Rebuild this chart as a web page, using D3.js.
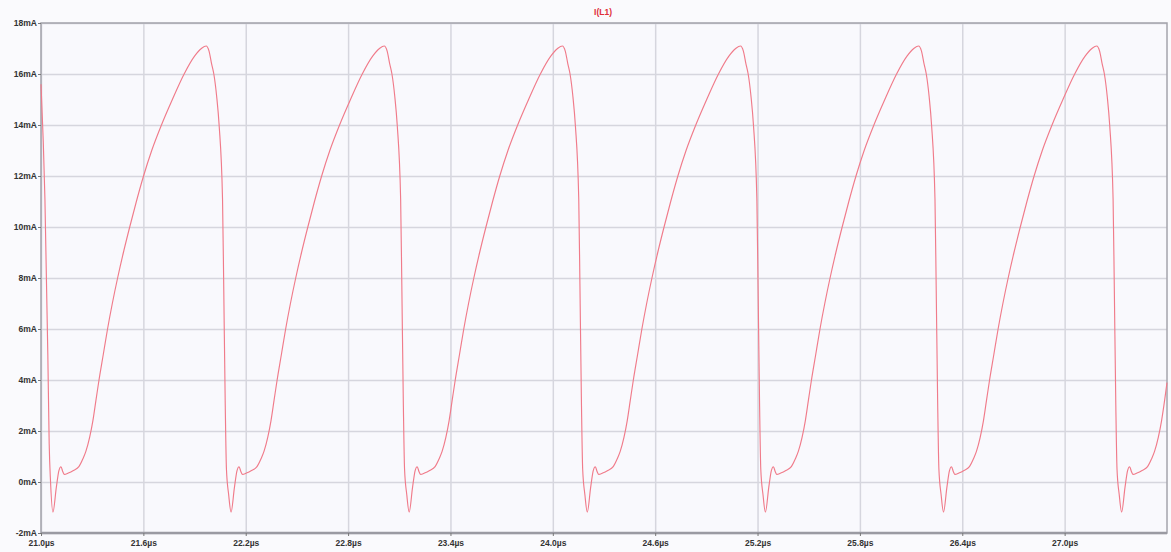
<!DOCTYPE html>
<html>
<head>
<meta charset="utf-8">
<script src="https://cdn.jsdelivr.net/npm/d3@7"></script>
<style>
  html, body { margin: 0; padding: 0; background: #fafafd; }
  svg { display: block; }
  .tick text { font-family: "Liberation Sans", Arial, sans-serif; font-weight: bold; font-size: 8.5px; fill: #333; }
</style>
</head>
<body>
<svg id="chart" width="1171" height="552"></svg>
<script>
// Inductor current I(L1) over time (µs, mA)
const timeUs = [
  21.000, 21.023, 21.040, 21.048, 21.056,
  21.070, 21.090, 21.105, 21.117, 21.128, 21.137, 21.160, 21.190, 21.222, 21.245, 21.263, 21.285, 21.304, 21.322, 21.340, 21.365, 21.390, 21.418, 21.449, 21.483, 21.520, 21.559, 21.601, 21.649, 21.706, 21.770, 21.839, 21.900, 21.940, 21.968, 21.985, 22.000, 22.013, 22.030, 22.044, 22.064, 22.071, 22.080, 22.087, 22.100,
  22.114, 22.134, 22.149, 22.161, 22.172, 22.181, 22.204, 22.234, 22.266, 22.289, 22.307, 22.329, 22.348, 22.366, 22.384, 22.409, 22.434, 22.462, 22.493, 22.527, 22.564, 22.603, 22.645, 22.693, 22.750, 22.814, 22.883, 22.944, 22.984, 23.012, 23.029, 23.044, 23.057, 23.074, 23.088, 23.108, 23.115, 23.124, 23.131, 23.144,
  23.158, 23.178, 23.193, 23.205, 23.216, 23.225, 23.248, 23.278, 23.310, 23.333, 23.351, 23.373, 23.392, 23.410, 23.428, 23.453, 23.478, 23.506, 23.537, 23.571, 23.608, 23.647, 23.689, 23.737, 23.794, 23.858, 23.927, 23.988, 24.028, 24.056, 24.073, 24.088, 24.101, 24.118, 24.132, 24.152, 24.159, 24.168, 24.175, 24.188,
  24.202, 24.222, 24.237, 24.249, 24.260, 24.269, 24.292, 24.322, 24.354, 24.377, 24.395, 24.417, 24.436, 24.454, 24.472, 24.497, 24.522, 24.550, 24.581, 24.615, 24.652, 24.691, 24.733, 24.781, 24.838, 24.902, 24.971, 25.032, 25.072, 25.100, 25.117, 25.132, 25.145, 25.162, 25.176, 25.196, 25.203, 25.212, 25.219, 25.232,
  25.246, 25.266, 25.281, 25.293, 25.304, 25.313, 25.336, 25.366, 25.398, 25.421, 25.439, 25.461, 25.480, 25.498, 25.516, 25.541, 25.566, 25.594, 25.625, 25.659, 25.696, 25.735, 25.777, 25.825, 25.882, 25.946, 26.015, 26.076, 26.116, 26.144, 26.161, 26.176, 26.189, 26.206, 26.220, 26.240, 26.247, 26.256, 26.263, 26.276,
  26.290, 26.310, 26.325, 26.337, 26.348, 26.357, 26.380, 26.410, 26.442, 26.465, 26.483, 26.505, 26.524, 26.542, 26.560, 26.585, 26.610, 26.638, 26.669, 26.703, 26.740, 26.779, 26.821, 26.869, 26.926, 26.990, 27.059, 27.120, 27.160, 27.188, 27.205, 27.220, 27.233, 27.250, 27.264, 27.284, 27.291, 27.300, 27.307, 27.320,
  27.334, 27.354, 27.369, 27.381, 27.392, 27.401, 27.424, 27.454, 27.486, 27.509, 27.527, 27.549, 27.568, 27.586, 27.600
];

const currentMA = [
  15.60, 11.10, 5.00, 1.50, 0.00,
  -1.18, -0.20, 0.45, 0.60, 0.40, 0.30, 0.35, 0.45, 0.60, 0.90, 1.20, 1.75, 2.40, 3.20, 4.00, 5.00, 6.00, 7.00, 8.00, 9.00, 10.00, 11.00, 12.00, 13.00, 14.00, 15.00, 16.00, 16.70, 17.00, 17.10, 16.90, 16.40, 16.00, 15.10, 14.00, 11.10, 7.70, 3.00, 0.50, -0.50,
  -1.18, -0.20, 0.45, 0.60, 0.40, 0.30, 0.35, 0.45, 0.60, 0.90, 1.20, 1.75, 2.40, 3.20, 4.00, 5.00, 6.00, 7.00, 8.00, 9.00, 10.00, 11.00, 12.00, 13.00, 14.00, 15.00, 16.00, 16.70, 17.00, 17.10, 16.90, 16.40, 16.00, 15.10, 14.00, 11.10, 7.70, 3.00, 0.50, -0.50,
  -1.18, -0.20, 0.45, 0.60, 0.40, 0.30, 0.35, 0.45, 0.60, 0.90, 1.20, 1.75, 2.40, 3.20, 4.00, 5.00, 6.00, 7.00, 8.00, 9.00, 10.00, 11.00, 12.00, 13.00, 14.00, 15.00, 16.00, 16.70, 17.00, 17.10, 16.90, 16.40, 16.00, 15.10, 14.00, 11.10, 7.70, 3.00, 0.50, -0.50,
  -1.18, -0.20, 0.45, 0.60, 0.40, 0.30, 0.35, 0.45, 0.60, 0.90, 1.20, 1.75, 2.40, 3.20, 4.00, 5.00, 6.00, 7.00, 8.00, 9.00, 10.00, 11.00, 12.00, 13.00, 14.00, 15.00, 16.00, 16.70, 17.00, 17.10, 16.90, 16.40, 16.00, 15.10, 14.00, 11.10, 7.70, 3.00, 0.50, -0.50,
  -1.18, -0.20, 0.45, 0.60, 0.40, 0.30, 0.35, 0.45, 0.60, 0.90, 1.20, 1.75, 2.40, 3.20, 4.00, 5.00, 6.00, 7.00, 8.00, 9.00, 10.00, 11.00, 12.00, 13.00, 14.00, 15.00, 16.00, 16.70, 17.00, 17.10, 16.90, 16.40, 16.00, 15.10, 14.00, 11.10, 7.70, 3.00, 0.50, -0.50,
  -1.18, -0.20, 0.45, 0.60, 0.40, 0.30, 0.35, 0.45, 0.60, 0.90, 1.20, 1.75, 2.40, 3.20, 4.00, 5.00, 6.00, 7.00, 8.00, 9.00, 10.00, 11.00, 12.00, 13.00, 14.00, 15.00, 16.00, 16.70, 17.00, 17.10, 16.90, 16.40, 16.00, 15.10, 14.00, 11.10, 7.70, 3.00, 0.50, -0.50,
  -1.18, -0.20, 0.45, 0.60, 0.40, 0.30, 0.35, 0.45, 0.60, 0.90, 1.20, 1.75, 2.40, 3.20, 3.90
];

const xTicks = [21.0, 21.6, 22.2, 22.8, 23.4, 24.0, 24.6, 25.2, 25.8, 26.4, 27.0];
const yTicks = [-2, 0, 2, 4, 6, 8, 10, 12, 14, 16, 18];
const traceName = "I(L1)";

const W = 1171, H = 552;
const margin = { top: 23, right: 4, bottom: 19, left: 41 };
const innerW = W - margin.left - margin.right;
const innerH = H - margin.top - margin.bottom;

const svg = d3.select("#chart");

const x = d3.scaleLinear().domain([21.0, 27.6]).range([margin.left, margin.left + innerW]);
const y = d3.scaleLinear().domain([-2, 18]).range([margin.top + innerH, margin.top]);

// plot background
svg.append("rect")
  .attr("x", margin.left).attr("y", margin.top)
  .attr("width", innerW).attr("height", innerH)
  .attr("fill", "#f9f9fd");

// grid lines
svg.append("g")
  .attr("transform", `translate(0,${margin.top + innerH})`)
  .call(d3.axisBottom(x).tickValues(xTicks).tickSize(-innerH).tickFormat(""))
  .call(g => g.select(".domain").remove())
  .call(g => g.selectAll(".tick line").attr("stroke", "#d6d6de").attr("stroke-width", 1.5));

svg.append("g")
  .attr("transform", `translate(${margin.left},0)`)
  .call(d3.axisLeft(y).tickValues(yTicks).tickSize(-innerW).tickFormat(""))
  .call(g => g.select(".domain").remove())
  .call(g => g.selectAll(".tick line").attr("stroke", "#d6d6de").attr("stroke-width", 1.5));

// frame
svg.append("rect")
  .attr("x", margin.left).attr("y", margin.top)
  .attr("width", innerW).attr("height", innerH)
  .attr("fill", "none").attr("stroke", "#a4a4ac").attr("stroke-width", 1.5);
svg.append("line")
  .attr("x1", margin.left).attr("x2", margin.left + innerW)
  .attr("y1", margin.top + innerH).attr("y2", margin.top + innerH)
  .attr("stroke", "#9a9aa2").attr("stroke-width", 2.5);

// axes with labels
svg.append("g")
  .attr("transform", `translate(${margin.left},0)`)
  .call(d3.axisLeft(y).tickValues(yTicks).tickSize(3).tickPadding(1).tickFormat(d => d + "mA"))
  .call(g => g.select(".domain").remove())
  .call(g => g.selectAll(".tick line").attr("stroke", "#777"));

svg.append("g")
  .attr("transform", `translate(0,${margin.top + innerH})`)
  .call(d3.axisBottom(x).tickValues(xTicks).tickSize(3).tickPadding(4).tickFormat(d => d.toFixed(1) + "µs"))
  .call(g => g.select(".domain").remove())
  .call(g => g.selectAll(".tick line").attr("stroke", "#777"));

// trace
const points = timeUs.map((t, i) => [t, currentMA[i]]);
svg.append("path")
  .datum(points)
  .attr("fill", "none")
  .attr("stroke", "#f07b8a")
  .attr("stroke-width", 1.15)
  .attr("stroke-linejoin", "round")
  .attr("d", d3.line().x(d => x(d[0])).y(d => y(d[1])).curve(d3.curveMonotoneX));

// trace name
svg.append("text")
  .attr("x", 603).attr("y", 15)
  .attr("text-anchor", "middle")
  .attr("font-family", "Liberation Sans, Arial, sans-serif")
  .attr("font-weight", "bold")
  .attr("font-size", 8.5)
  .attr("fill", "#e0303a")
  .text(traceName);
</script>
</body>
</html>
